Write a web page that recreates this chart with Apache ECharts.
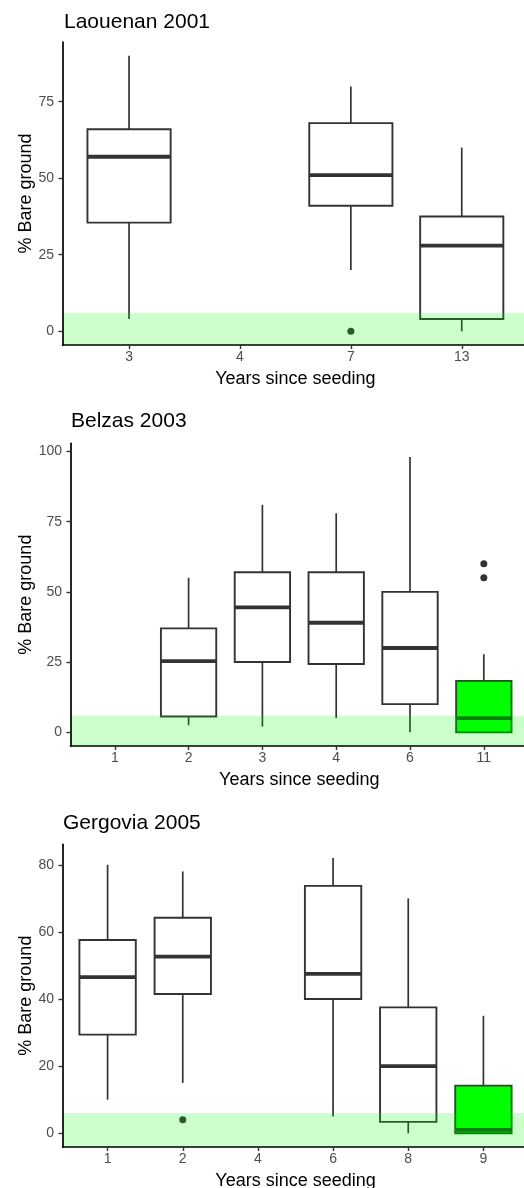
<!DOCTYPE html>
<html><head><meta charset="utf-8">
<script src="https://cdn.jsdelivr.net/npm/echarts@6/dist/echarts.min.js"></script>
<style>html,body{margin:0;padding:0;background:#fff}#c{width:524px;height:1188px}</style>
</head><body><div id="c"></div>
<script>
// ---------------- data ----------------
// box stats per category: [lower whisker, Q1, median, Q3, upper whisker]; null = no box
const laouenanTitle = 'Laouenan 2001';
const laouenanYears = ['3', '4', '7', '13'];
const laouenanStats = [[4, 35.5, 57, 66, 90], null, [20, 41, 51, 68, 80], [0, 4, 28, 37.5, 60]];
const laouenanOutliers = [['7', 0]];
const laouenanGreenYears = [];
const laouenanTicks = [0, 25, 50, 75];

const belzasTitle = 'Belzas 2003';
const belzasYears = ['1', '2', '3', '4', '6', '11'];
const belzasStats = [null, [2.5, 5.6, 25.3, 37, 55], [2, 25, 44.5, 57, 81], [5, 24.3, 39, 57, 78], [0, 10, 30, 50, 98], [0, 0, 5, 18.3, 27.8]];
const belzasOutliers = [['11', 60], ['11', 55]];
const belzasGreenYears = ['11'];
const belzasTicks = [0, 25, 50, 75, 100];

const gergoviaTitle = 'Gergovia 2005';
const gergoviaYears = ['1', '2', '4', '6', '8', '9'];
const gergoviaStats = [[10, 29.4, 46.5, 57.6, 80], [15, 41.5, 52.6, 64.2, 78], null, [5, 40, 47.5, 73.7, 82], [0, 3.4, 20, 37.5, 70], [0, 0, 1, 14.2, 35]];
const gergoviaOutliers = [['2', 4]];
const gergoviaGreenYears = ['9'];
const gergoviaTicks = [0, 20, 40, 60, 80];

const bandTop = 6;
const xTitle = 'Years since seeding';
const yTitle = '% Bare ground';

// ---------------- layout / style ----------------
const FONT = '"Liberation Sans", Arial, Helvetica, sans-serif';
const panels = [
  {title: laouenanTitle, years: laouenanYears, stats: laouenanStats, outliers: laouenanOutliers, green: laouenanGreenYears, ticks: laouenanTicks},
  {title: belzasTitle, years: belzasYears, stats: belzasStats, outliers: belzasOutliers, green: belzasGreenYears, ticks: belzasTicks},
  {title: gergoviaTitle, years: gergoviaYears, stats: gergoviaStats, outliers: gergoviaOutliers, green: gergoviaGreenYears, ticks: gergoviaTicks}
];
const layouts = [
  {left: 62.5, top: 42, width: 465.8, height: 303, titleLeft: 64, titleTop: 11.5, yNameGap: 27},
  {left: 70.5, top: 443.3, width: 457.6, height: 302.7, titleLeft: 71, titleTop: 411, yNameGap: 35},
  {left: 62.5, top: 844.3, width: 466, height: 302.7, titleLeft: 63, titleTop: 812.5, yNameGap: 27}
];

function renderBox(params, api) {
  const x = api.value(0);
  const p = [1, 2, 3, 4, 5].map(d => api.coord([x, api.value(d)]));
  const half = api.size([0.75, 0])[0] / 2;
  const green = api.value(6) === 1;
  const stroke = green ? '#0d5e0d' : '#333333';
  const cx = p[0][0];
  return {type: 'group', children: [
    {type: 'line', shape: {x1: cx, y1: p[0][1], x2: cx, y2: p[1][1]}, style: {stroke: '#333333', lineWidth: 1.7}},
    {type: 'line', shape: {x1: cx, y1: p[3][1], x2: cx, y2: p[4][1]}, style: {stroke: '#333333', lineWidth: 1.7}},
    {type: 'rect', shape: {x: cx - half, y: p[3][1], width: 2 * half, height: p[1][1] - p[3][1]},
      style: {fill: green ? '#00ff00' : '#ffffff', stroke: stroke, lineWidth: 1.9}},
    {type: 'line', shape: {x1: cx - half, y1: p[2][1], x2: cx + half, y2: p[2][1]}, style: {stroke: stroke, lineWidth: 3.8}}
  ]};
}
function renderBand(params, api) {
  const a = api.coord([api.value(0), api.value(1)]);
  const b = api.coord([api.value(2), api.value(3)]);
  return {type: 'rect', shape: {x: a[0], y: b[1], width: b[0] - a[0], height: a[1] - b[1]},
    style: {fill: 'rgba(0,255,0,0.2)'}};
}

const option = {animation: false, backgroundColor: '#ffffff', title: [], grid: [], xAxis: [], yAxis: [], series: []};

panels.forEach((p, i) => {
  const L = layouts[i];
  const n = p.years.length;
  const vals = [0];
  p.stats.forEach(s => { if (s) vals.push(...s); });
  p.outliers.forEach(o => vals.push(o[1]));
  const vmin = Math.min(...vals), vmax = Math.max(...vals);
  const pad = 0.05 * (vmax - vmin);
  const ymin = vmin - pad, ymax = vmax + pad;
  const idx = p.years.map((_, k) => k);

  option.title.push({text: p.title, left: L.titleLeft, top: L.titleTop, padding: 0,
    textStyle: {fontFamily: FONT, fontSize: 21, fontWeight: 'normal', color: '#000'}});
  option.grid.push({left: L.left, top: L.top, width: L.width, height: L.height, containLabel: false, outerBoundsMode: 'none'});
  option.xAxis.push({gridIndex: i, type: 'value', min: -0.6, max: n - 0.4, z: 20,
    name: xTitle, nameLocation: 'middle', nameGap: 25, nameMoveOverlap: false,
    nameTextStyle: {fontFamily: FONT, fontSize: 18, color: '#000'},
    axisLine: {show: true, onZero: false, lineStyle: {color: '#000', width: 1.7}},
    axisTick: {show: true, length: 4, customValues: idx, lineStyle: {color: '#333', width: 1.4}},
    axisLabel: {show: true, customValues: idx, formatter: v => p.years[Math.round(v)], margin: 5.5,
      color: '#4d4d4d', fontSize: 14, fontFamily: FONT},
    splitLine: {show: false}});
  option.yAxis.push({gridIndex: i, type: 'value', min: ymin, max: ymax, z: 20,
    name: yTitle, nameLocation: 'middle', nameRotate: 90, nameGap: L.yNameGap, nameMoveOverlap: false,
    nameTextStyle: {fontFamily: FONT, fontSize: 18, color: '#000'},
    axisLine: {show: true, onZero: false, lineStyle: {color: '#000', width: 1.7}},
    axisTick: {show: true, length: 4, customValues: p.ticks, lineStyle: {color: '#333', width: 1.4}},
    axisLabel: {show: true, customValues: p.ticks, margin: 8.5, color: '#4d4d4d', fontSize: 14, fontFamily: FONT},
    splitLine: {show: false}});

  const boxData = [];
  p.stats.forEach((s, k) => {
    if (s) boxData.push([k, ...s, p.green.includes(p.years[k]) ? 1 : 0]);
  });
  option.series.push({type: 'custom', xAxisIndex: i, yAxisIndex: i, z: 2, silent: true,
    dimensions: ['x', 'lo', 'q1', 'med', 'q3', 'hi', 'g'],
    encode: {x: 0, y: [1, 2, 3, 4, 5]},
    data: boxData, renderItem: renderBox});
  option.series.push({type: 'scatter', xAxisIndex: i, yAxisIndex: i, z: 3, silent: true,
    symbolSize: 7, itemStyle: {color: '#333333', opacity: 1},
    data: p.outliers.map(o => [p.years.indexOf(o[0]), o[1]])});
  option.series.push({type: 'custom', xAxisIndex: i, yAxisIndex: i, z: 10, silent: true,
    dimensions: ['x0', 'y0', 'x1', 'y1'], encode: {x: [0, 2], y: [1, 3]},
    data: [[-0.6, ymin, n - 0.4, bandTop]], renderItem: renderBand});
});

const chart = echarts.init(document.getElementById('c'), null, {renderer: 'canvas'});
chart.setOption(option);
</script>
</body></html>
